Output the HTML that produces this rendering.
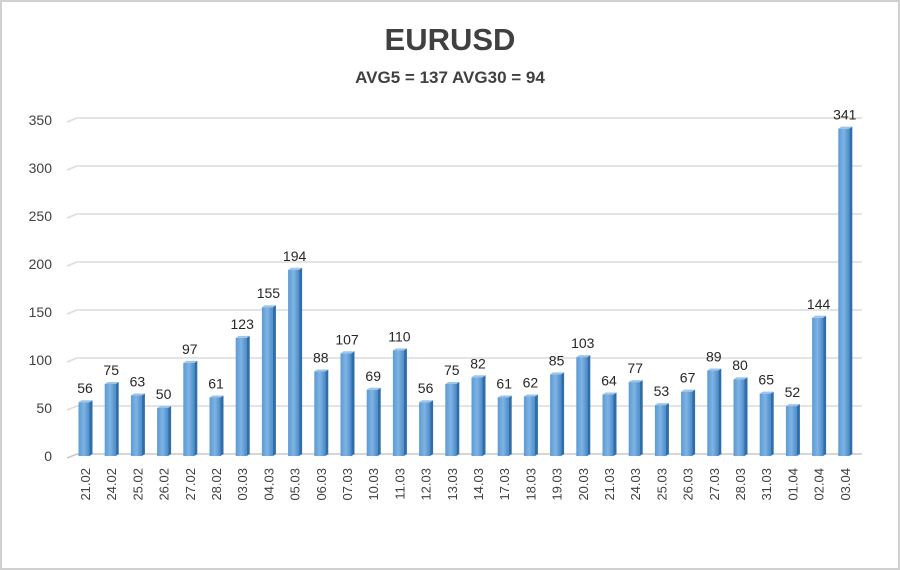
<!DOCTYPE html>
<html><head><meta charset="utf-8"><style>
body{margin:0;background:#fff;}
svg{display:block;font-family:"Liberation Sans",sans-serif;}
</style></head><body>
<svg width="900" height="570" viewBox="0 0 900 570">
<defs>
<linearGradient id="bf" x1="0" x2="1" y1="0" y2="0">
<stop offset="0" stop-color="#5b9bd5"/><stop offset="0.5" stop-color="#7fb3e3"/><stop offset="1" stop-color="#4a8ccb"/>
</linearGradient>
</defs>
<rect x="1" y="1" width="898" height="568" fill="#fff" stroke="#d0d0d0" stroke-width="2"/>
<text x="450" y="50" text-anchor="middle" font-size="31" font-weight="bold" fill="#404040">EURUSD</text>
<text x="450" y="83" text-anchor="middle" font-size="17" font-weight="bold" fill="#404040">AVG5 = 137 AVG30 = 94</text>
<g id="grid"></g><g id="yt"></g><g id="bars"></g><g id="xl"></g>
</svg>
<script>
const categories=["21.02","24.02","25.02","26.02","27.02","28.02","03.03","04.03","05.03","06.03","07.03","10.03","11.03","12.03","13.03","14.03","17.03","18.03","19.03","20.03","21.03","24.03","25.03","26.03","27.03","28.03","31.03","01.04","02.04","03.04"];
const values=[56,75,63,50,97,61,123,155,194,88,107,69,110,56,75,82,61,62,85,103,64,77,53,67,89,80,65,52,144,341];
const yTicks=[0,50,100,150,200,250,300,350];
const NS="http://www.w3.org/2000/svg";
function y(v){return 456-v*0.96;}
function x(i){return 85+i*26.2;}
function mk(tag,attrs,parent){const e=document.createElementNS(NS,tag);for(const k in attrs)e.setAttribute(k,attrs[k]);document.getElementById(parent).appendChild(e);return e;}
yTicks.forEach(t=>{
 const g=mk('path',{d:`M67 ${y(t)+2} L77 ${y(t)-2} L862 ${y(t)-2}`,stroke:t===0?'#c8c8c8':'#dcdcdc','stroke-width':1.5,fill:'none'},'grid');
 
 
 const l=mk('text',{x:52,y:y(t)+5,'text-anchor':'end','font-size':14,fill:'#404040'},'yt');
 l.textContent=t;
 
 
});
values.forEach((v,i)=>{
 const cx=x(i),top=y(v),bot=456;
 const b=mk('rect',{x:cx-6.5,y:top,width:11,height:bot-top,fill:'url(#bf)'},'bars');
 
 
 const s=mk('path',{d:`M${cx+4.5} ${top} L${cx+7.5} ${top-2} L${cx+7.5} ${bot-2} L${cx+4.5} ${bot} Z`,fill:'#2f6ea8'},'bars');
 
 
 const tp=mk('path',{d:`M${cx-6.5} ${top} L${cx-3.5} ${top-2} L${cx+7.5} ${top-2} L${cx+4.5} ${top} Z`,fill:'#9cc5ec'},'bars');
 
 
 const t=mk('text',{x:cx,y:top-9,'text-anchor':'middle','font-size':14,fill:'#262626'},'bars');
 t.textContent=v;
 
 
 const c=mk('text',{transform:`translate(${cx+5},468) rotate(-90)`,'text-anchor':'end','font-size':13,fill:'#404040'},'xl');
 c.textContent=categories[i];
 
 
});
</script>
</body></html>
